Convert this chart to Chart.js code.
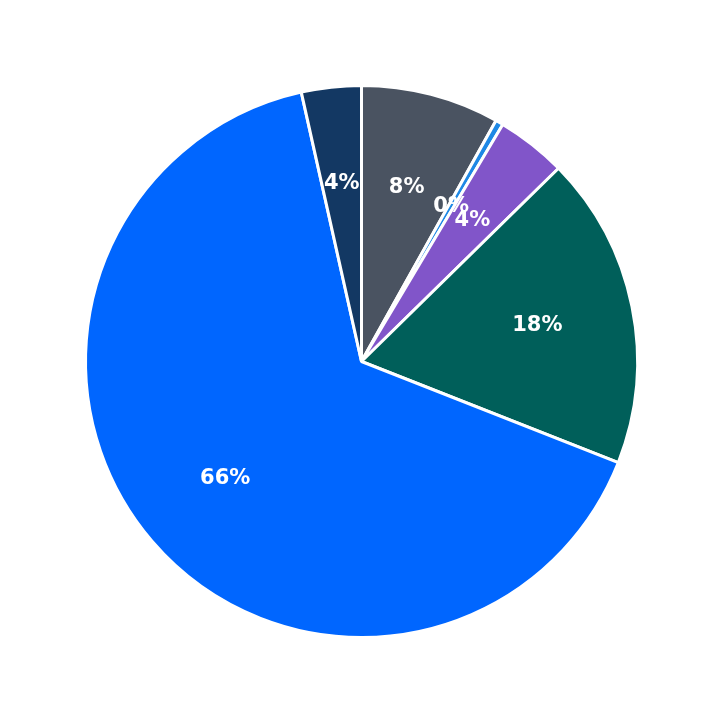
<!DOCTYPE html>
<html><head><meta charset="utf-8">
<script src="https://cdn.jsdelivr.net/npm/chart.js@4"></script>
<style>html,body{margin:0;padding:0;background:#fff}#w{width:723px;height:723px}</style>
</head><body><div id="w"><canvas id="c"></canvas></div>
<script>
const categories = ["A","B","C","D","E","F"];
const values = [8.1, 0.45, 4.1, 18.3, 65.5, 3.5];
const colors = ["#4a5361","#1e88e5","#8155c9","#005f5a","#0066ff","#133863"];
const labelPlugin = {
  id:'lbl',
  afterDatasetsDraw(chart){
    const ctx = chart.ctx, meta = chart.getDatasetMeta(0);
    const total = values.reduce((a,b)=>a+b,0);
    ctx.save();
    ctx.fillStyle='#fff'; ctx.font='bold 21px "DejaVu Sans"';
    ctx.textAlign='center'; ctx.textBaseline='middle';
    meta.data.forEach((arc,i)=>{
      const p = arc.getProps(['x','y','startAngle','endAngle','outerRadius']);
      const a=(p.startAngle+p.endAngle)/2, r=p.outerRadius*0.65;
      ctx.fillText(Math.round(values[i]/total*100)+'%', p.x+Math.cos(a)*r, p.y+Math.sin(a)*r);
    });
    ctx.restore();
  }
};
new Chart(document.getElementById('c'),{
  type:'pie',
  data:{labels:categories,datasets:[{data:values,backgroundColor:colors,borderColor:'#fff',borderWidth:3}]},
  options:{responsive:true,maintainAspectRatio:false,animation:false,
    layout:{padding:84},
    plugins:{legend:{display:false},tooltip:{enabled:false}}},
  plugins:[labelPlugin]
});
</script></body></html>
